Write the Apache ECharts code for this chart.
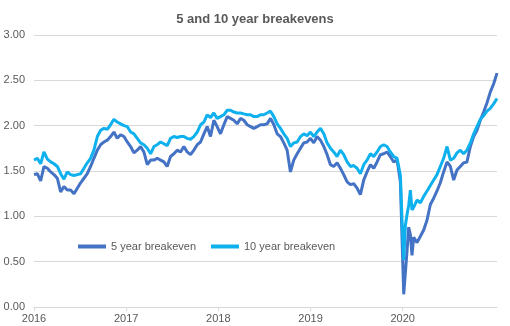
<!DOCTYPE html>
<html>
<head>
<meta charset="utf-8">
<script src="https://cdn.jsdelivr.net/npm/echarts@6/dist/echarts.min.js"></script>
<style>
  html, body { margin: 0; padding: 0; background: #fff; }
  #chart { width: 510px; height: 326px; }
</style>
</head>
<body>
<div id="chart"></div>
<script>
// Observation dates as fractional years
const dates = [
  2016.000, 2016.036, 2016.072, 2016.108, 2016.145, 2016.181, 2016.217, 2016.253, 2016.289, 2016.325,
  2016.361, 2016.397, 2016.434, 2016.470, 2016.506, 2016.542, 2016.578, 2016.614, 2016.650, 2016.687,
  2016.723, 2016.759, 2016.795, 2016.831, 2016.867, 2016.903, 2016.939, 2016.976, 2017.012, 2017.048,
  2017.084, 2017.120, 2017.156, 2017.192, 2017.229, 2017.265, 2017.301, 2017.337, 2017.373, 2017.409,
  2017.445, 2017.481, 2017.518, 2017.554, 2017.590, 2017.626, 2017.662, 2017.698, 2017.734, 2017.771,
  2017.807, 2017.843, 2017.879, 2017.915, 2017.951, 2017.987, 2018.023, 2018.060, 2018.096, 2018.132,
  2018.168, 2018.204, 2018.240, 2018.276, 2018.313, 2018.349, 2018.385, 2018.421, 2018.457, 2018.493,
  2018.529, 2018.566, 2018.602, 2018.638, 2018.674, 2018.710, 2018.746, 2018.782, 2018.818, 2018.855,
  2018.891, 2018.927, 2018.963, 2018.999, 2019.035, 2019.071, 2019.108, 2019.144, 2019.180, 2019.216,
  2019.252, 2019.288, 2019.324, 2019.360, 2019.397, 2019.433, 2019.469, 2019.505, 2019.541, 2019.577,
  2019.613, 2019.650, 2019.686, 2019.722, 2019.758, 2019.794, 2019.830, 2019.866, 2019.902, 2019.939,
  2019.975, 2019.993, 2020.011, 2020.029, 2020.047, 2020.065, 2020.083, 2020.101, 2020.119, 2020.155,
  2020.192, 2020.228, 2020.264, 2020.300, 2020.336, 2020.372, 2020.408, 2020.444, 2020.481, 2020.517,
  2020.553, 2020.589, 2020.625, 2020.661, 2020.697, 2020.734, 2020.770, 2020.806, 2020.842, 2020.878,
  2020.914, 2020.950, 2020.986, 2021.023
];

// 5 year breakeven inflation rate (%)
const be5 = [
  1.46, 1.47, 1.39, 1.55, 1.53, 1.49, 1.46, 1.42, 1.27, 1.33,
  1.29, 1.29, 1.25, 1.31, 1.37, 1.42, 1.47, 1.55, 1.64, 1.73,
  1.79, 1.82, 1.84, 1.88, 1.93, 1.86, 1.90, 1.88, 1.82, 1.77,
  1.70, 1.73, 1.77, 1.71, 1.57, 1.62, 1.62, 1.64, 1.62, 1.60,
  1.55, 1.66, 1.69, 1.73, 1.71, 1.77, 1.71, 1.68, 1.73, 1.79,
  1.82, 1.91, 1.99, 1.88, 2.06, 1.99, 1.91, 2.01, 2.10, 2.08,
  2.06, 2.02, 2.08, 2.06, 2.01, 1.99, 1.97, 1.99, 2.01, 2.01,
  2.02, 2.08, 2.01, 1.91, 1.88, 1.81, 1.73, 1.49, 1.62, 1.69,
  1.75, 1.81, 1.82, 1.86, 1.81, 1.88, 1.84, 1.77, 1.68, 1.57,
  1.55, 1.59, 1.53, 1.46, 1.38, 1.35, 1.36, 1.31, 1.24, 1.40,
  1.49, 1.57, 1.53, 1.60, 1.68, 1.69, 1.71, 1.66, 1.60, 1.62,
  1.38, 0.75, 0.14, 0.16, 0.62, 0.88, 0.80, 0.57, 0.77, 0.71,
  0.78, 0.85, 0.96, 1.13, 1.20, 1.28, 1.37, 1.49, 1.60, 1.55,
  1.40, 1.51, 1.55, 1.59, 1.60, 1.77, 1.88, 1.95, 2.06, 2.15,
  2.25, 2.37, 2.46, 2.58
];

// 10 year breakeven inflation rate (%)
const be10 = [
  1.62, 1.64, 1.58, 1.71, 1.63, 1.60, 1.58, 1.55, 1.47, 1.41,
  1.49, 1.46, 1.45, 1.46, 1.47, 1.53, 1.59, 1.64, 1.73, 1.88,
  1.95, 1.97, 1.96, 2.01, 2.07, 2.04, 2.02, 2.00, 1.99, 1.93,
  1.91, 1.86, 1.81, 1.79, 1.75, 1.69, 1.77, 1.79, 1.82, 1.80,
  1.78, 1.86, 1.88, 1.87, 1.88, 1.88, 1.86, 1.85, 1.88, 1.93,
  2.01, 2.04, 2.12, 2.09, 2.14, 2.08, 2.10, 2.12, 2.17, 2.17,
  2.15, 2.14, 2.14, 2.13, 2.12, 2.12, 2.10, 2.10, 2.12, 2.12,
  2.14, 2.16, 2.10, 2.02, 1.97, 1.91, 1.86, 1.77, 1.81, 1.82,
  1.88, 1.91, 1.89, 1.93, 1.88, 1.93, 1.97, 1.91, 1.81, 1.75,
  1.71, 1.66, 1.73, 1.68, 1.60, 1.55, 1.56, 1.53, 1.47, 1.57,
  1.62, 1.69, 1.66, 1.71, 1.77, 1.79, 1.77, 1.71, 1.66, 1.64,
  1.45, 0.95, 0.52, 0.90, 1.02, 1.12, 1.29, 1.07, 1.10, 1.18,
  1.15, 1.22, 1.28, 1.34, 1.40, 1.46, 1.55, 1.64, 1.77, 1.62,
  1.64, 1.70, 1.73, 1.69, 1.73, 1.81, 1.91, 1.99, 2.07, 2.11,
  2.16, 2.19, 2.24, 2.30
];

const yearTicks = [2016, 2017, 2018, 2019, 2020];
const seriesNames = ['5 year breakeven', '10 year breakeven'];
const seriesColors = ['#4472C4', '#0FB0EE'];

const pairs = (vals) => dates.map((d, i) => [d, vals[i]]);

const chart = echarts.init(document.getElementById('chart'), null, { renderer: 'canvas' });

chart.setOption({
  animation: false,
  textStyle: { fontFamily: 'Liberation Sans, Arial, sans-serif' },
  title: {
    text: '5 and 10 year breakevens',
    left: 'center',
    top: 8,
    textStyle: { fontSize: 13, fontWeight: 'bold', color: '#595959' }
  },
  legend: {
    data: seriesNames,
    left: 78,
    top: 241,
    padding: 0,
    icon: 'rect',
    itemWidth: 28,
    itemHeight: 4,
    itemGap: 15,
    textStyle: { fontSize: 11, color: '#595959' }
  },
  grid: { left: 34, right: 13, top: 35, bottom: 19, containLabel: false },
  xAxis: {
    type: 'value',
    min: 2016,
    max: dates[dates.length - 1],
    interval: 1,
    splitLine: { show: false },
    axisLine: { show: true, lineStyle: { color: '#D9D9D9', width: 1 } },
    axisTick: { show: true, length: 4, customValues: yearTicks, lineStyle: { color: '#D9D9D9' } },
    axisLabel: {
      customValues: yearTicks,
      formatter: (v) => String(Math.round(v)),
      color: '#595959',
      fontSize: 11,
      margin: 6
    }
  },
  yAxis: {
    type: 'value',
    min: 0,
    max: 3,
    interval: 0.5,
    axisLine: { show: false },
    axisTick: { show: false },
    splitLine: { lineStyle: { color: '#D9D9D9', width: 1 } },
    axisLabel: {
      formatter: (v) => v.toFixed(2),
      color: '#595959',
      fontSize: 11,
      margin: 9
    }
  },
  series: [
    {
      name: seriesNames[0],
      type: 'line',
      data: pairs(be5),
      showSymbol: false,
      symbol: 'none',
      lineStyle: { width: 3, color: seriesColors[0] },
      itemStyle: { color: seriesColors[0] },
      z: 2
    },
    {
      name: seriesNames[1],
      type: 'line',
      data: pairs(be10),
      showSymbol: false,
      symbol: 'none',
      lineStyle: { width: 3, color: seriesColors[1] },
      itemStyle: { color: seriesColors[1] },
      z: 3
    }
  ]
});
</script>
</body>
</html>
